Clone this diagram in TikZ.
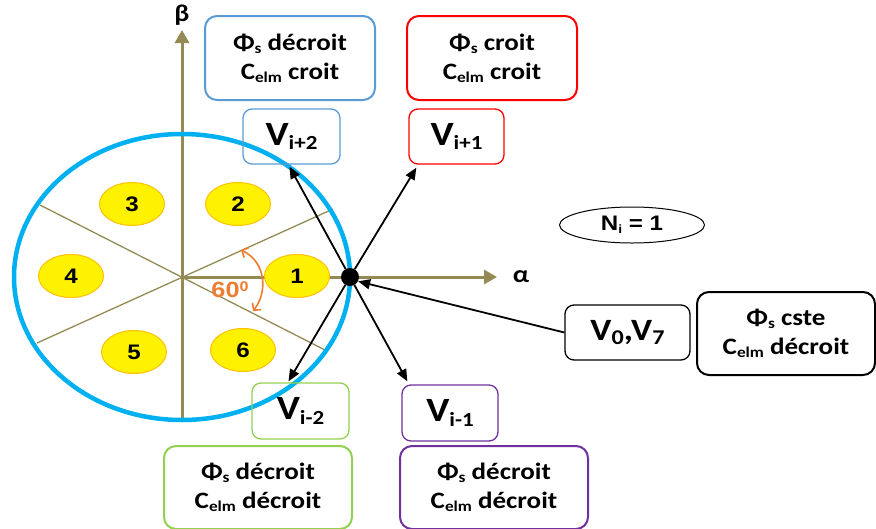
\documentclass[tikz,border=0pt]{standalone}
\usepackage{fontspec}
\setmainfont{Carlito}[FakeStretch=1.15]
\newfontfamily\arialf{Liberation Sans}[FakeStretch=1.15]
\usetikzlibrary{arrows.meta,shapes.geometric}
\definecolor{axcol}{RGB}{148,138,84}
\definecolor{ringcol}{RGB}{0,176,240}
\definecolor{bluebox}{RGB}{91,155,213}
\definecolor{redbox}{RGB}{255,0,0}
\definecolor{greenbox}{RGB}{146,208,80}
\definecolor{purplebox}{RGB}{112,48,160}
\definecolor{yellowfill}{RGB}{255,242,0}
\definecolor{yellowedge}{RGB}{255,192,0}
\definecolor{anglecol}{RGB}{237,125,49}
\newcommand{\fsz}[2]{\fontsize{#1}{#2}\selectfont}
\newcommand{\lsub}[2][15]{\raisebox{-0.25ex}{\fsz{#1}{#1}#2}}
\begin{document}
\begin{tikzpicture}[x=1pt,y=-1pt,
  axis/.style={draw=axcol,line width=3pt,-{Triangle[length=13pt,width=14pt]}},
  sectorline/.style={draw=axcol,line width=1.3pt},
  ring/.style={draw=ringcol,line width=4.5pt},
  zone/.style={ellipse,draw=yellowedge,fill=yellowfill,line width=1pt,minimum width=65pt,minimum height=43pt,inner sep=0pt,font=\arialf\bfseries\fsz{21}{21}},
  infobox/.style={draw,rounded corners=12pt,line width=2pt,minimum width=170pt,minimum height=84pt,inner sep=0pt,align=center,font=\bfseries\fsz{23.5}{29}},
  vecbox/.style={draw,rounded corners=9pt,line width=1.3pt,minimum width=97pt,minimum height=55pt,inner sep=0pt,font=\bfseries\fsz{34}{34}},
  vec/.style={draw=black,line width=1.8pt,-{Triangle[length=12pt,width=10pt]}},
  anglemark/.style={draw=anglecol,line width=1.6pt,{Straight Barb[length=5pt,width=11pt]}-{Straight Barb[length=5pt,width=11pt]}},
  axlabel/.style={font=\bfseries\fsz{24}{24}},
]
\useasboundingbox (0,0) rectangle (876,528);

% axes
\coordinate (O) at (182,277);
\coordinate (betaBot) at (182,418);
\coordinate (betaTop) at (182,30);
\coordinate (alphaTip) at (497,277);
\draw[axis] (betaBot) -- (betaTop);
\draw[axis] (O) -- (alphaTip);
\node[axlabel] (beta) at (182,15) {β};
\node[axlabel] (alpha) at (521,277) {α};

% sector lines
\coordinate (s1a) at (333,209);
\coordinate (s1b) at (37,343);
\coordinate (s2a) at (40,205);
\coordinate (s2b) at (325,350);
\draw[sectorline] (s1a) -- (s1b);
\draw[sectorline] (s2a) -- (s2b);

% ring
\draw[ring] (O) ellipse [x radius=168pt, y radius=143pt];

% zones
\node[zone] (z1) at (297,276) {1};
\node[zone] (z2) at (238,204) {2};
\node[zone] (z3) at (132,204) {3};
\node[zone] (z4) at (71,276) {4};
\node[zone] (z5) at (134,352) {5};
\node[zone] (z6) at (243,350) {6};

% angle mark
\coordinate (ang1) at (241,250);
\coordinate (ang2) at (253,311);
\draw[anglemark] (ang1) .. controls (266,262) and (268,292) .. (ang2);
\node[font=\arialf\bfseries\fsz{22}{22},text=anglecol] (ang) at (230,290) {60\raisebox{0.55ex}{\fsz{14}{14}0}};

% boxes
\node[infobox,draw=bluebox] (tl) at (290,58) {Φ\lsub{s} décroit\\C\lsub{elm} croit};
\node[infobox,draw=redbox] (tr) at (492,58) {Φ\lsub{s} croit\\C\lsub{elm} croit};
\node[vecbox,draw=bluebox] (vip2) at (291.5,136.5) {V\lsub[20]{i+2}};
\node[vecbox,draw=redbox,minimum width=95pt] (vip1) at (456.5,136.5) {V\lsub[20]{i+1}};
\node[vecbox,draw=greenbox,minimum height=56pt] (vim2) at (300.5,411) {V\lsub[20]{i-2}};
\node[vecbox,draw=purplebox,minimum width=96pt,minimum height=56pt] (vim1) at (450,413) {V\lsub[20]{i-1}};
\node[infobox,draw=greenbox,minimum width=188pt,minimum height=83pt] (bl) at (258,487.5) {Φ\lsub{s} décroit\\C\lsub{elm} décroit};
\node[infobox,draw=purplebox,minimum width=188pt,minimum height=83pt] (br) at (494,487.5) {Φ\lsub{s} décroit\\C\lsub{elm} décroit};
\node[ellipse,draw=black,line width=1pt,minimum width=145pt,minimum height=36pt,inner sep=0pt,font=\arialf\bfseries\fsz{21}{21}] (ni) at (632,225) {N\lsub[12]{i} = 1};
\node[draw=black,rounded corners=9pt,line width=1.3pt,minimum width=125pt,minimum height=55pt,inner sep=0pt,font=\bfseries\fsz{31}{31}] (v07) at (627.5,332.5) {V\lsub[21]{0},V\lsub[21]{7}};
\node[infobox,draw=black,minimum width=178pt,minimum height=83pt] (cste) at (786,333.5) {Φ\lsub{s} cste\\C\lsub{elm} décroit};

% central point and vectors
\node[circle,fill=black,minimum size=18pt,inner sep=0pt] (P) at (350,277) {};
\draw[vec] (P) -- ([xshift=-2pt,yshift=-2pt]vip2.south);
\draw[vec] (P) -- ([xshift=8pt,yshift=-3pt]vip1.south west);
\draw[vec] (P) -- ([xshift=-12pt,yshift=1pt]vim2.north);
\draw[vec] (P) -- ([xshift=6pt,yshift=3pt]vim1.north west);
\draw[vec] (v07.west) -- (P.-28);
\end{tikzpicture}
\end{document}
